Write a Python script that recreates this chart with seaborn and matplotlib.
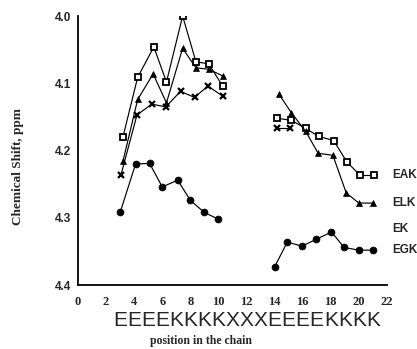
import matplotlib
matplotlib.use("Agg")
import matplotlib.pyplot as plt
import matplotlib.ticker as mticker
import matplotlib.transforms as mtransforms
import seaborn as sns
import pandas as pd

# --- data (x = position in chain, y = chemical shift, ppm) ---
# left block (positions 3-10)
eak_x1 = [3.2, 4.25, 5.4, 6.3, 7.45, 8.4, 9.3, 10.3]
eak_y1 = [4.180, 4.091, 4.046, 4.098, 4.000, 4.068, 4.071, 4.104]
elk_x1 = [3.2, 4.25, 5.35, 6.3, 7.45, 8.4, 9.3, 10.3]
elk_y1 = [4.216, 4.124, 4.086, 4.129, 4.048, 4.077, 4.079, 4.089]
ek_x1 = [3.05, 4.2, 5.25, 6.25, 7.3, 8.3, 9.25, 10.3]
ek_y1 = [4.237, 4.147, 4.131, 4.135, 4.112, 4.121, 4.104, 4.119]
egk_x1 = [3.0, 4.1, 5.1, 6.0, 7.1, 8.0, 9.0, 10.0]
egk_y1 = [4.292, 4.220, 4.219, 4.254, 4.244, 4.274, 4.292, 4.302]

# right block (positions 14-21)
eak_x2 = [14.2, 15.2, 16.2, 17.15, 18.2, 19.15, 20.1, 21.1]
eak_y2 = [4.152, 4.155, 4.167, 4.179, 4.185, 4.217, 4.237, 4.237]
elk_x2 = [14.3, 15.2, 16.2, 17.1, 18.15, 19.1, 20.0, 21.0]
elk_y2 = [4.116, 4.144, 4.171, 4.204, 4.207, 4.263, 4.278, 4.278]
ek_x2 = [14.15, 15.1]
ek_y2 = [4.167, 4.167]
egk_x2 = [14.0, 14.9, 15.95, 16.95, 18.05, 18.95, 20.0, 21.0]
egk_y2 = [4.373, 4.336, 4.342, 4.332, 4.321, 4.344, 4.348, 4.348]

series_names = ["EAK", "ELK", "EK", "EGK"]
label_y = [4.237, 4.278, 4.317, 4.348]

sequence = "EEEEKKKKXXXEEEEKKKK"
seq_start = 3

x_ticks = list(range(0, 23, 2))
y_ticks = [4.0, 4.1, 4.2, 4.3, 4.4]

segments = {
    "EAK": [(eak_x1, eak_y1), (eak_x2, eak_y2)],
    "ELK": [(elk_x1, elk_y1), (elk_x2, elk_y2)],
    "EK": [(ek_x1, ek_y1), (ek_x2, ek_y2)],
    "EGK": [(egk_x1, egk_y1), (egk_x2, egk_y2)],
}

styles = {
    "EAK": dict(marker="s", markersize=4.5, markerfacecolor="white", markeredgewidth=1.3),
    "ELK": dict(marker="^", markersize=5, markerfacecolor="black", markeredgewidth=0.5),
    "EK": dict(marker="x", markersize=5, markeredgewidth=1.6),
    "EGK": dict(marker="o", markersize=5, markerfacecolor="black", markeredgewidth=0.5),
}

sns.set_style("white")
plt.rcParams["font.family"] = ["Liberation Sans", "DejaVu Sans"]

fig = plt.figure(figsize=(4.17, 3.49), dpi=100)
ax = fig.add_axes([0.187, 0.183, 0.741, 0.771])

for name in series_names:
    for xs, ys in segments[name]:
        df = pd.DataFrame({"x": xs, "y": ys})
        sns.lineplot(data=df, x="x", y="y", ax=ax, color="black", linewidth=0.85,
                     sort=False, estimator=None, markeredgecolor="black",
                     **styles[name])

ax.set_xlim(0, 22)
ax.set_ylim(4.4, 4.0)

ax.set_xticks(x_ticks)
ax.xaxis.set_minor_locator(mticker.MultipleLocator(1))
ax.set_yticks(y_ticks)
ax.yaxis.set_minor_locator(mticker.MultipleLocator(0.05))
ax.yaxis.set_major_formatter(mticker.FormatStrFormatter("%.1f"))

for side in ["top", "right"]:
    ax.spines[side].set_visible(False)
for side in ["left", "bottom"]:
    ax.spines[side].set_color("black")
    ax.spines[side].set_linewidth(1.3)

ax.tick_params(axis="both", which="both", direction="out", color="black", width=1.1)
ax.tick_params(axis="y", which="major", length=4, pad=1, labelsize=8.5)
ax.tick_params(axis="y", which="minor", length=3)
ax.tick_params(axis="x", which="major", length=3, pad=5, labelsize=9)
ax.tick_params(axis="x", which="minor", length=2.5)
for lab in ax.get_yticklabels():
    lab.set_fontweight("bold")
for lab in ax.get_xticklabels():
    lab.set_fontweight("bold")
    lab.set_family(["Liberation Serif", "DejaVu Serif"])

ax.set_xlabel("position in the chain", fontsize=8.5, fontweight="bold",
              family=["Liberation Serif", "DejaVu Serif"])
ax.xaxis.set_label_coords(0.398, -0.185)
ax.set_ylabel("Chemical Shift, ppm", fontsize=9.5, fontweight="bold",
              family=["Liberation Serif", "DejaVu Serif"])
ax.yaxis.set_label_coords(-0.175, 0.442)

# sequence letters under the axis, one per chain position
trans = mtransforms.blended_transform_factory(ax.transData, ax.transAxes)
for i, letter in enumerate(sequence):
    ax.text(seq_start + i, -0.13, letter, transform=trans, ha="center", va="center",
            fontsize=15, clip_on=False)

# series labels at the right
for name, yv in zip(series_names, label_y):
    ax.text(22.4, yv, name, ha="left", va="center", fontsize=8.5, fontweight="bold",
            clip_on=False)

fig.savefig("out.png", dpi=100)
